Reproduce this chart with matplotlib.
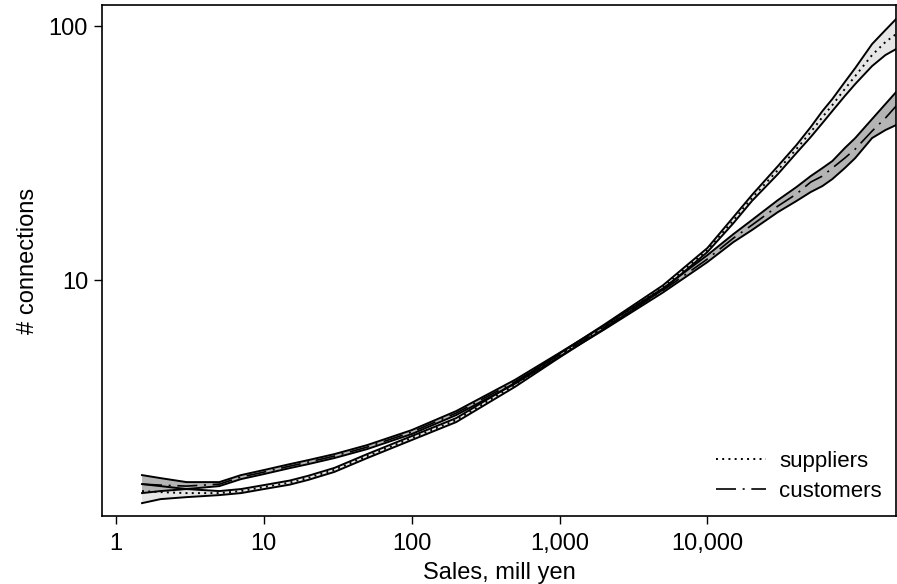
import matplotlib
matplotlib.use("Agg")
import matplotlib.pyplot as plt
from matplotlib.ticker import FixedLocator, NullLocator
from matplotlib.lines import Line2D

plt.rcParams['font.family'] = ['Liberation Sans', 'DejaVu Sans']

# sales (mill yen) at which the fitted curves are read
sales = [1.5, 2, 3, 5, 7, 10, 15, 20, 30, 50, 100, 200, 500, 1000, 2000, 5000,
         10000, 15000, 20000, 30000, 40000, 50000, 60000, 70000, 85000,
         100000, 130000, 160000, 189000]

# suppliers: fit and confidence band
sup_fit = [1.477, 1.463, 1.450, 1.450, 1.477, 1.531, 1.595, 1.665, 1.790, 2.028,
           2.388, 2.811, 3.870, 5.050, 6.550, 9.35, 13.12, 17.20, 21.03, 27.11,
           32.79, 38.25, 43.82, 48.86, 56.49, 63.55, 76.88, 86.50, 93.00]
sup_lo = [1.324, 1.373, 1.398, 1.424, 1.450, 1.504, 1.566, 1.635, 1.757, 1.992,
          2.345, 2.760, 3.800, 4.960, 6.430, 9.17, 12.89, 16.75, 20.47, 26.14,
          31.62, 36.56, 41.50, 46.28, 53.02, 59.12, 69.58, 76.88, 81.17]
sup_hi = [1.573, 1.545, 1.504, 1.477, 1.504, 1.559, 1.625, 1.697, 1.822, 2.065,
          2.431, 2.862, 3.940, 5.140, 6.670, 9.53, 13.37, 17.70, 21.61, 28.11,
          34.00, 40.03, 46.28, 51.60, 60.20, 68.34, 84.94, 96.44, 106.6]

# customers: fit and confidence band
cus_fit = [1.573, 1.559, 1.545, 1.573, 1.677, 1.754, 1.852, 1.921, 2.028, 2.200,
           2.521, 2.995, 3.980, 5.080, 6.500, 9.10, 12.10, 14.63, 16.46, 19.56,
           21.81, 24.31, 25.67, 27.60, 30.22, 32.79, 38.60, 43.43, 48.42]
cus_lo = [1.450, 1.477, 1.504, 1.545, 1.646, 1.723, 1.819, 1.886, 1.992, 2.161,
          2.476, 2.941, 3.910, 4.990, 6.380, 8.93, 11.77, 14.11, 15.73, 18.52,
          20.47, 22.21, 23.45, 24.98, 27.60, 30.22, 36.23, 38.95, 40.76]
cus_hi = [1.707, 1.661, 1.602, 1.602, 1.707, 1.787, 1.886, 1.956, 2.065, 2.241,
          2.567, 3.050, 4.050, 5.170, 6.620, 9.27, 12.54, 15.17, 17.23, 20.65,
          23.23, 25.67, 27.60, 29.41, 33.09, 36.23, 43.04, 49.31, 54.97]

xticks = [1, 10, 100, 1000, 10000]
xticklabels = ['1', '10', '100', '1,000', '10,000']
yticks = [10, 100]
yticklabels = ['10', '100']

sup_dots = (0, (1, 2.2))
cus_dash = (0, (12, 4, 1.2, 4))

fig = plt.figure(figsize=(8.97, 5.84), dpi=100)
ax = fig.add_axes([0.1137, 0.1164, 0.8853, 0.875])

ax.fill_between(sales, sup_lo, sup_hi, facecolor='#e6e6e6', edgecolor='none', zorder=1)
ax.fill_between(sales, cus_lo, cus_hi, facecolor='#b4b4b4', edgecolor='none', zorder=2)

for band in (sup_lo, sup_hi, cus_lo, cus_hi):
    ax.plot(sales, band, color='black', lw=1.4, zorder=3, solid_joinstyle='round')

ax.plot(sales, sup_fit, color='black', lw=1.4, linestyle=sup_dots, zorder=4)
ax.plot(sales, cus_fit, color='black', lw=1.2, linestyle=cus_dash, zorder=4)

ax.set_xscale('log')
ax.set_yscale('log')
ax.set_xlim(0.804, 189000)
ax.set_ylim(1.178, 121)

ax.xaxis.set_major_locator(FixedLocator(xticks))
ax.xaxis.set_minor_locator(NullLocator())
ax.set_xticklabels(xticklabels)
ax.yaxis.set_major_locator(FixedLocator(yticks))
ax.yaxis.set_minor_locator(NullLocator())
ax.set_yticklabels(yticklabels)

ax.tick_params(axis='both', direction='out', length=6, width=1, labelsize=17)
ax.tick_params(axis='x', pad=6)
ax.tick_params(axis='y', pad=4)
for sp in ax.spines.values():
    sp.set_linewidth(1.2)

ax.set_xlabel('Sales, mill yen', fontsize=17, labelpad=5)
ax.set_ylabel('# connections', fontsize=17, labelpad=7)

handles = [
    Line2D([], [], color='black', lw=1.4, linestyle=sup_dots),
    Line2D([], [], color='black', lw=1.2, linestyle=cus_dash),
]
ax.legend(handles, ['suppliers', 'customers'], loc='lower right', frameon=False,
          fontsize=16, handlelength=2.25, handletextpad=0.6, labelspacing=0.4,
          borderaxespad=0.25)

fig.savefig('out.png', dpi=100)
